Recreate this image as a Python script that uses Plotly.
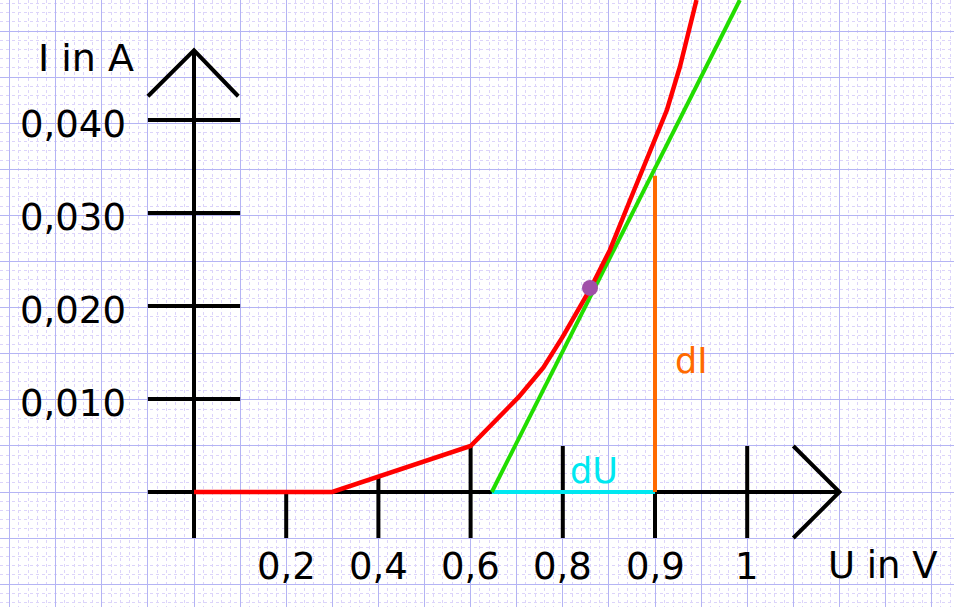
import plotly.graph_objects as go

# ---- data (x in tick-index units, I in A) ----
x_tick_pos = [1, 2, 3, 4, 5, 6]
x_tick_labels = ["0,2", "0,4", "0,6", "0,8", "0,9", "1"]
y_tick_vals = [0.010, 0.020, 0.030, 0.040]
y_tick_labels = ["0,010", "0,020", "0,030", "0,040"]

curve_u = [0, 1.50, 3.0, 3.52, 3.79, 4.0, 4.29, 4.51, 4.73, 4.95, 5.13, 5.27, 5.45]
curve_i = [0, 0, 0.00495, 0.0102, 0.0134, 0.0167, 0.0217, 0.0260, 0.0314, 0.0368, 0.0411, 0.0457, 0.0529]

tangent_u = [3.23, 5.92]
tangent_i = [0.0, 0.0529]

du_u = [3.23, 5.0]
du_i = [0.0, 0.0]

di_u = [5.0, 5.0]
di_i = [0.0, 0.0340]

point_u = [4.295]
point_i = [0.02194]

# ---- geometry helpers ----
PX_X = 92.2      # px per x unit
PX_Y = 9300.0    # px per A
X0, Y0 = 194, 492
W, H = 954, 607
xr = [-X0 / PX_X, (W - X0) / PX_X]
yr = [-(H - Y0) / PX_Y, Y0 / PX_Y]
T = 46 / PX_Y    # half tick length in I units
TX = 0.5         # half tick length in x units

FONT = "DejaVu Sans"
FS = 37

fig = go.Figure()

def seg(xs, ys, color, width):
    fig.add_trace(go.Scatter(x=xs, y=ys, mode="lines",
                             line=dict(color=color, width=width),
                             hoverinfo="skip", showlegend=False))

# axes
seg([-0.5, 7.0], [0, 0], "black", 4)
seg([6.5, 7.0, 6.5], [T, 0, -T], "black", 4)
seg([0, 0], [-T, 0.0475], "black", 4)
seg([-0.5, 0, 0.48], [0.0475 - T, 0.0475, 0.0475 - T], "black", 4)
# y ticks
for v in y_tick_vals:
    seg([-TX, TX], [v, v], "black", 4)
# x ticks
tick_tops = [0.0, 0.0017, T, T, T, T]
for p, top in zip(x_tick_pos, tick_tops):
    seg([p, p], [-T, top], "black", 4)

# curves
seg(du_u, du_i, "#00e8f0", 4)
seg(di_u, di_i, "#ff6a00", 4)
seg(tangent_u, tangent_i, "#22dd00", 4)
seg(curve_u, curve_i, "#ff0000", 4.5)
fig.add_trace(go.Scatter(x=point_u, y=point_i, mode="markers",
                         marker=dict(color="#a050a8", size=16),
                         hoverinfo="skip", showlegend=False))

# labels
ann = []
for v, t in zip(y_tick_vals, y_tick_labels):
    ann.append(dict(x=-0.716, y=v, text=t, xanchor="right", yanchor="middle",
                    yshift=-4, showarrow=False, font=dict(family=FONT, size=FS, color="black")))
for p, t in zip(x_tick_pos, x_tick_labels):
    ann.append(dict(x=p, y=-0.00796, text=t, xanchor="center", yanchor="middle",
                    showarrow=False, font=dict(family=FONT, size=FS, color="black")))
ann.append(dict(x=-1.171, y=0.04667, text="I in A", xanchor="center", yanchor="middle",
                showarrow=False, font=dict(family=FONT, size=FS + 1, color="black")))
ann.append(dict(x=7.473, y=-0.00785, text="U in V", xanchor="center", yanchor="middle",
                showarrow=False, font=dict(family=FONT, size=FS, color="black")))
ann.append(dict(x=4.338, y=0.00226, text="dU", xanchor="center", yanchor="middle",
                showarrow=False, font=dict(family=FONT, size=FS - 2, color="#00e8f0")))
ann.append(dict(x=5.40, y=0.01409, text="dI", xanchor="center", yanchor="middle",
                showarrow=False, font=dict(family=FONT, size=FS - 2, color="#ff6a00")))

major_grid = "#b4b4f4"
minor_grid = "#dcd4fa"

fig.update_layout(
    width=W, height=H,
    margin=dict(l=0, r=0, t=0, b=0),
    paper_bgcolor="white", plot_bgcolor="white",
    annotations=ann,
    xaxis=dict(range=xr, showticklabels=False, ticks="", zeroline=False,
               showgrid=True, gridcolor=major_grid, gridwidth=1, tick0=0, dtick=0.5,
               minor=dict(tick0=0, dtick=0.1, showgrid=True, gridcolor=minor_grid,
                          griddash="dot", gridwidth=1)),
    yaxis=dict(range=yr, showticklabels=False, ticks="", zeroline=False,
               showgrid=True, gridcolor=major_grid, gridwidth=1, tick0=0, dtick=46.1 / PX_Y,
               minor=dict(tick0=0, dtick=9.22 / PX_Y, showgrid=True, gridcolor=minor_grid,
                          griddash="dot", gridwidth=1)),
)

fig.write_html("out.html", config={"displayModeBar": False},
               post_script="document.body.style.margin='0';document.body.style.padding='0';")
